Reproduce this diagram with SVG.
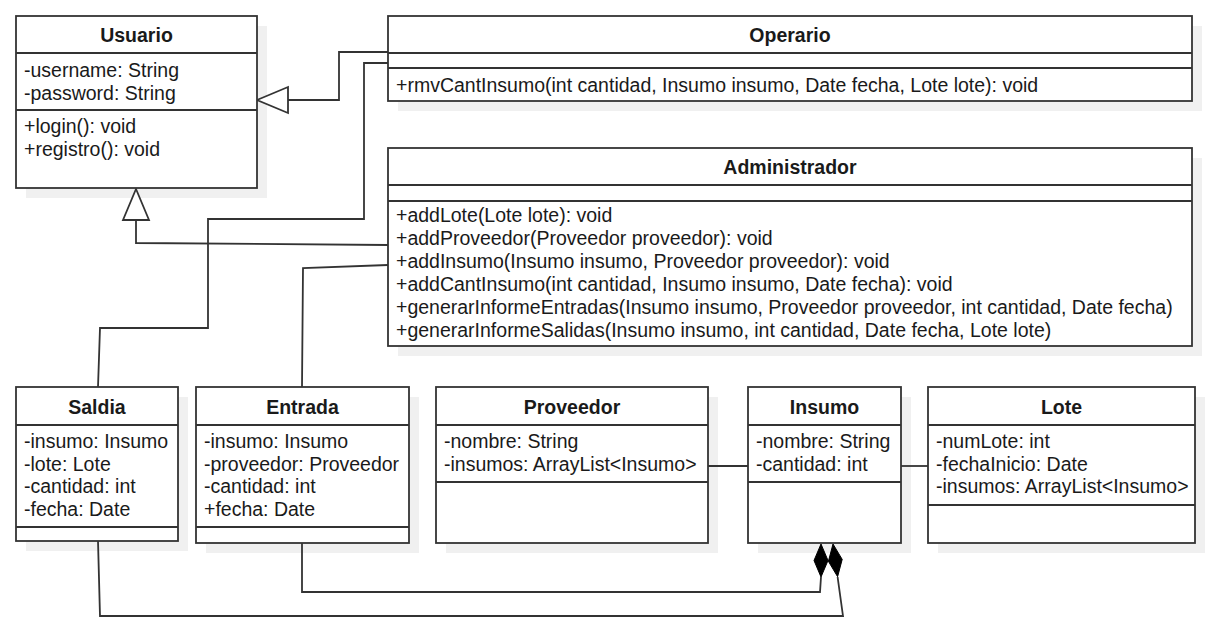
<svg xmlns="http://www.w3.org/2000/svg" width="1218" height="628" viewBox="0 0 1218 628">
<style>
  .shadow { fill: #f0f0f0; stroke: none; }
  .box { fill: #ffffff; stroke: #333333; stroke-width: 1.8; }
  .div { stroke: #333333; stroke-width: 1.8; fill: none; }
  .t { font-family: "Liberation Sans", Arial, sans-serif; font-size: 19.5px; fill: #1a1a1a; }
  .title { font-family: "Liberation Sans", Arial, sans-serif; font-size: 19.5px; font-weight: bold; fill: #1a1a1a; text-anchor: middle; }
  .edge { stroke: #333333; stroke-width: 1.8; fill: none; }
  .tri { fill: #ffffff; stroke: #333333; stroke-width: 1.8; }
  .dia { fill: #000000; stroke: #000000; stroke-width: 1; }
</style>
<rect width="1218" height="628" fill="#ffffff"/>

<g id="shadows">
  <rect class="shadow" x="26" y="26" width="241" height="172"/>
  <rect class="shadow" x="398" y="26" width="804" height="85"/>
  <rect class="shadow" x="398" y="158" width="804" height="198"/>
  <rect class="shadow" x="26" y="397" width="162" height="154"/>
  <rect class="shadow" x="206" y="397" width="213" height="156"/>
  <rect class="shadow" x="446" y="397" width="272" height="156"/>
  <rect class="shadow" x="758" y="397" width="153" height="156"/>
  <rect class="shadow" x="938" y="397" width="267" height="156"/>
</g>

<g id="connectors">
  <!-- Operario -> Usuario (generalization) -->
  <polyline class="edge" points="388,52 339,52 339,100 288,100"/>
  <polygon class="tri" points="257,100 288,87 288,113"/>
  <!-- Administrador -> Usuario (generalization) -->
  <polyline class="edge" points="388,245 136,243 136,220"/>
  <polygon class="tri" points="136,189 123,220 149,220"/>
  <!-- Saldia - Operario -->
  <polyline class="edge" points="388,63 364,63 364,219 208,219 208,328 100,328 98,387"/>
  <!-- Entrada - Administrador -->
  <polyline class="edge" points="388,265 303,268 302,387"/>
  <!-- Proveedor - Insumo -->
  <line class="edge" x1="708" y1="466" x2="748" y2="466"/>
  <!-- Insumo - Lote -->
  <line class="edge" x1="901" y1="466" x2="928" y2="466"/>
  <!-- Entrada -> Insumo composition -->
  <polyline class="edge" points="302,543 302,592 820,592 821,577"/>
  <polygon class="dia" points="821,544 828,560.5 821,577 814,560.5"/>
  <!-- Saldia -> Insumo composition -->
  <polyline class="edge" points="98,541 100,616 843,616 837.6,577"/>
  <polygon class="dia" points="833,544 842.2,559.4 837.6,576.7 828.4,561.3"/>
</g>

<g id="Usuario">
  <rect class="box" x="16" y="16" width="241" height="172"/>
  <line class="div" x1="16" y1="53" x2="257" y2="53"/>
  <line class="div" x1="16" y1="110" x2="257" y2="110"/>
  <text class="title" x="136.5" y="42">Usuario</text>
  <text class="t" x="24" y="77">-username: String</text>
  <text class="t" x="24" y="100">-password: String</text>
  <text class="t" x="24" y="133">+login(): void</text>
  <text class="t" x="24" y="156">+registro(): void</text>
</g>

<g id="Operario">
  <rect class="box" x="388" y="16" width="804" height="85"/>
  <line class="div" x1="388" y1="53" x2="1192" y2="53"/>
  <line class="div" x1="388" y1="68" x2="1192" y2="68"/>
  <text class="title" x="790" y="42">Operario</text>
  <text class="t" x="396" y="92">+rmvCantInsumo(int cantidad, Insumo insumo, Date fecha, Lote lote): void</text>
</g>

<g id="Administrador">
  <rect class="box" x="388" y="148" width="804" height="198"/>
  <line class="div" x1="388" y1="185" x2="1192" y2="185"/>
  <line class="div" x1="388" y1="201" x2="1192" y2="201"/>
  <text class="title" x="790" y="174">Administrador</text>
  <text class="t" x="396" y="222">+addLote(Lote lote): void</text>
  <text class="t" x="396" y="245">+addProveedor(Proveedor proveedor): void</text>
  <text class="t" x="396" y="268">+addInsumo(Insumo insumo, Proveedor proveedor): void</text>
  <text class="t" x="396" y="291">+addCantInsumo(int cantidad, Insumo insumo, Date fecha): void</text>
  <text class="t" x="396" y="314">+generarInformeEntradas(Insumo insumo, Proveedor proveedor, int cantidad, Date fecha)</text>
  <text class="t" x="396" y="337">+generarInformeSalidas(Insumo insumo, int cantidad, Date fecha, Lote lote)</text>
</g>

<g id="Saldia">
  <rect class="box" x="16" y="387" width="162" height="154"/>
  <line class="div" x1="16" y1="425" x2="178" y2="425"/>
  <line class="div" x1="16" y1="527" x2="178" y2="527"/>
  <text class="title" x="97" y="414">Saldia</text>
  <text class="t" x="24" y="448">-insumo: Insumo</text>
  <text class="t" x="24" y="471">-lote: Lote</text>
  <text class="t" x="24" y="493">-cantidad: int</text>
  <text class="t" x="24" y="516">-fecha: Date</text>
</g>

<g id="Entrada">
  <rect class="box" x="196" y="387" width="213" height="156"/>
  <line class="div" x1="196" y1="425" x2="409" y2="425"/>
  <line class="div" x1="196" y1="527" x2="409" y2="527"/>
  <text class="title" x="302.5" y="414">Entrada</text>
  <text class="t" x="204" y="448">-insumo: Insumo</text>
  <text class="t" x="204" y="471">-proveedor: Proveedor</text>
  <text class="t" x="204" y="493">-cantidad: int</text>
  <text class="t" x="204" y="516">+fecha: Date</text>
</g>

<g id="Proveedor">
  <rect class="box" x="436" y="387" width="272" height="156"/>
  <line class="div" x1="436" y1="425" x2="708" y2="425"/>
  <line class="div" x1="436" y1="482" x2="708" y2="482"/>
  <text class="title" x="572" y="414">Proveedor</text>
  <text class="t" x="444" y="448">-nombre: String</text>
  <text class="t" x="444" y="471">-insumos: ArrayList&lt;Insumo&gt;</text>
</g>

<g id="Insumo">
  <rect class="box" x="748" y="387" width="153" height="156"/>
  <line class="div" x1="748" y1="425" x2="901" y2="425"/>
  <line class="div" x1="748" y1="482" x2="901" y2="482"/>
  <text class="title" x="824.5" y="414">Insumo</text>
  <text class="t" x="756" y="448">-nombre: String</text>
  <text class="t" x="756" y="471">-cantidad: int</text>
</g>

<g id="Lote">
  <rect class="box" x="928" y="387" width="267" height="156"/>
  <line class="div" x1="928" y1="425" x2="1195" y2="425"/>
  <line class="div" x1="928" y1="505" x2="1195" y2="505"/>
  <text class="title" x="1061.5" y="414">Lote</text>
  <text class="t" x="936" y="448">-numLote: int</text>
  <text class="t" x="936" y="471">-fechaInicio: Date</text>
  <text class="t" x="936" y="493">-insumos: ArrayList&lt;Insumo&gt;</text>
</g>
</svg>
